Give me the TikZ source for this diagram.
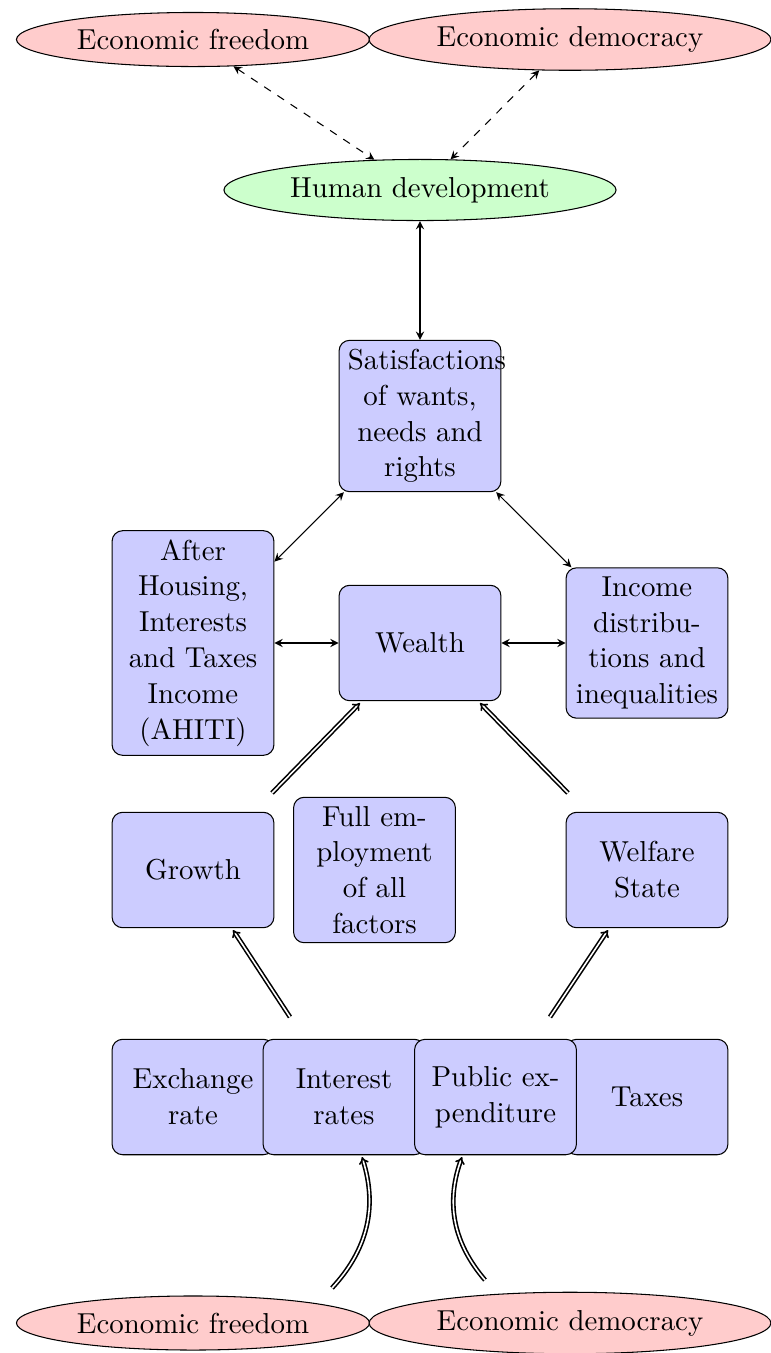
\documentclass[tikz,border=0pt]{standalone}
\usetikzlibrary{arrows.meta,shapes.geometric}
\begin{document}
\begin{tikzpicture}[x=0.3795pt,y=-0.3795pt,
  font=\fontsize{10.95}{13.6}\selectfont,
  box/.style={draw, rounded corners, fill=blue!20, text width=54.75pt, align=center, minimum height=43.8pt},
  oval/.style={draw, ellipse},
  redoval/.style={oval, fill=red!20},
  greenoval/.style={oval, fill=green!20},
  link/.style={<->, >=stealth},
  dashlink/.style={link, dashed},
  dbl/.style={double, semithick, -{Implies}}]
\useasboundingbox (0,0) rectangle (771,1353);

% top ellipses
\node[redoval] (ef1) at (193,39.5) {Economic freedom};
\node[redoval] (ed1) at (570,39.5) {Economic democracy};
\node[greenoval] (hd) at (420,190) {Human development};

% boxes
\node[box] (sat) at (420,416) {Satisfactions of wants, needs and rights};
\node[box] (ahiti) at (193,643) {After Housing, Interests and Taxes Income (AHITI)};
\node[box] (wealth) at (420,643) {Wealth};
\node[box] (income) at (647,643) {Income distributions and inequalities};
\node[box] (growth) at (193,870) {Growth};
\node[box] (full) at (374.5,870) {Full employment of all factors};
\node[box] (welfare) at (647,870) {Welfare State};
\node[box] (exch) at (193,1097) {Exchange rate};
\node[box] (interest) at (344,1097) {Interest rates};
\node[box] (taxes) at (647,1097) {Taxes};
\node[box] (public) at (495.5,1097) {Public expenditure};

% bottom ellipses
\node[redoval] (ef2) at (193,1323) {Economic freedom};
\node[redoval] (ed2) at (570,1323) {Economic democracy};

% thin links
\draw[dashlink] (ef1) -- (hd);
\draw[dashlink] (ed1) -- (hd);
\draw[link] (hd) -- (sat);
\draw[link] (sat) -- (ahiti);
\draw[link] (sat) -- (income);
\draw[link] (ahiti) -- (wealth);
\draw[link] (wealth) -- (income);

% double arrows
\coordinate (w1s) at (272,793);
\coordinate (w1e) at (360,703);
\coordinate (w2s) at (568,793);
\coordinate (w2e) at (480,703);
\coordinate (g1s) at (290,1017);
\coordinate (g1e) at (233,930);
\coordinate (g2s) at (550,1017);
\coordinate (g2e) at (608,930);
\coordinate (c1s) at (332,1288);
\coordinate (c1e) at (362,1157);
\coordinate (c2s) at (485,1280);
\coordinate (c2e) at (462,1157);

\draw[dbl] (w1s) -- (w1e);
\draw[dbl] (w2s) -- (w2e);
\draw[dbl] (g1s) -- (g1e);
\draw[dbl] (g2s) -- (g2e);
\draw[dbl] (c1s) to[bend right] (c1e);
\draw[dbl] (c2s) to[bend left] (c2e);
\end{tikzpicture}
\end{document}
